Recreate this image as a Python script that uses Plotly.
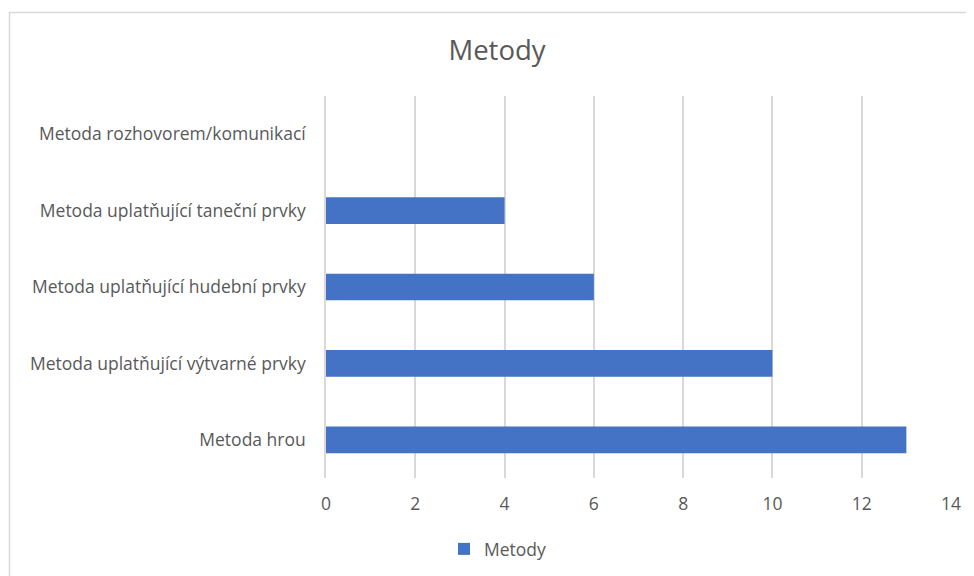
import plotly.graph_objects as go

categories = [
    "Metoda hrou",
    "Metoda uplatňující výtvarné prvky",
    "Metoda uplatňující hudební prvky",
    "Metoda uplatňující taneční prvky",
    "Metoda rozhovorem/komunikací",
]
values = [13, 10, 6, 4, 0]
series_name = "Metody"
x_ticks = [0, 2, 4, 6, 8, 10, 12, 14]

W, H = 974, 576
OFF = 8  # page body margin
L, R, T, B = 326 - OFF, 951 - OFF, 96 - OFF, 478 - OFF

fig = go.Figure()
fig.add_trace(go.Bar(
    y=categories, x=values, orientation="h", name=series_name,
    marker=dict(color="#4472C4", line=dict(width=0)),
    width=0.35,
))

def px_x(p):
    return (p - OFF - L) / (R - L)

def px_y(p):
    return (B - (p - OFF)) / (B - T)

fig.add_shape(type="rect", xref="paper", yref="paper",
              x0=px_x(9.5), x1=px_x(1000), y0=px_y(12.5), y1=px_y(620),
              line=dict(color="#D9D9D9", width=1.5), fillcolor="rgba(0,0,0,0)", layer="below")

fig.update_layout(
    width=W, height=H,
    margin=dict(l=L, r=W - R, t=T, b=H - B, pad=0),
    paper_bgcolor="white", plot_bgcolor="white",
    font=dict(family="Open Sans", color="#595959", size=17.5),
    title=dict(text="Metody", x=(497 - OFF) / W, xanchor="center", y=1 - (50 - OFF) / H, yanchor="middle",
               font=dict(size=27.5, color="#595959")),
    showlegend=True,
    legend=dict(orientation="h", x=px_x(498), xanchor="center", y=px_y(549), yanchor="middle",
                xref="paper", yref="paper", font=dict(size=17.5, color="#595959")),
    bargap=0.65,
)
fig.update_xaxes(range=[0, 14], tickvals=x_ticks, showgrid=True, gridcolor="#D9D9D9", gridwidth=1.5,
                 zeroline=False, showline=False, ticks="", ticklabelstandoff=13,
                 tickfont=dict(size=17.5, color="#595959"))
fig.update_yaxes(categoryorder="array", categoryarray=categories, showgrid=False, zeroline=False,
                 showline=True, linecolor="#D9D9D9", linewidth=1.5, ticks="", ticklabelstandoff=15,
                 tickfont=dict(size=17.5, color="#595959"))

fig.write_html("out.html")
